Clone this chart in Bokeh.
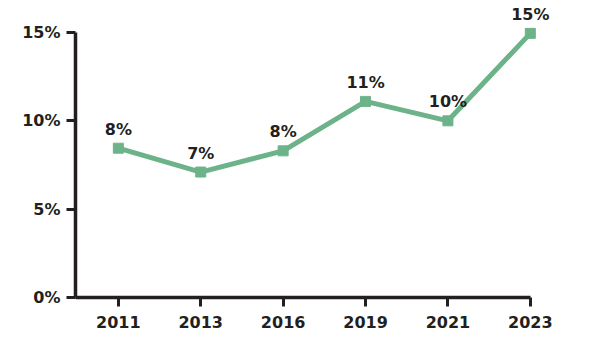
from bokeh.plotting import figure
from bokeh.models import ColumnDataSource, FixedTicker, PrintfTickFormatter, Range1d
from bokeh.core.properties import value
from bokeh.embed import file_html
from bokeh.resources import INLINE

years = ["2011", "2013", "2016", "2019", "2021", "2023"]
values = [8.45, 7.1, 8.3, 11.1, 10.0, 14.95]
labels = [f"{round(v)}%" for v in values]
y_ticks = [0, 5, 10, 15]

xs = list(range(len(years)))
src = ColumnDataSource(dict(x=xs, y=values, label=labels))

FONT = "DejaVu Sans"
DARK = "#231f20"
GREEN = "#6db38a"

p = figure(width=582, height=340, output_backend="svg", toolbar_location=None,
           x_range=Range1d(-0.52, 5.245), y_range=Range1d(0, 16.81),
           min_border_left=75, min_border_right=32, min_border_top=0, min_border_bottom=43)
p.outline_line_color = None
p.xgrid.visible = False
p.ygrid.visible = False
p.background_fill_color = "white"
p.border_fill_color = "white"

p.line("x", "y", source=src, line_color=GREEN, line_width=5)
p.scatter("x", "y", source=src, marker="square", size=10, fill_color=GREEN, line_color=GREEN)
p.text("x", "y", text="label", source=src, y_offset=-19, text_align="center",
       text_baseline="middle", text_font=value(FONT), text_font_style="bold",
       text_font_size="16px", text_color=DARK)

for ax in (p.xaxis[0], p.yaxis[0]):
    ax.axis_line_color = DARK
    ax.axis_line_width = 3.5
    ax.major_tick_line_color = DARK
    ax.major_tick_line_width = 3
    ax.major_tick_in = 0
    ax.major_tick_out = 9
    ax.minor_tick_line_color = None
    ax.major_label_text_font = FONT
    ax.major_label_text_font_style = "bold"
    ax.major_label_text_font_size = "16px"
    ax.major_label_text_color = DARK

p.xaxis[0].ticker = FixedTicker(ticks=xs)
p.xaxis[0].major_label_overrides = {i: y for i, y in zip(xs, years)}
p.xaxis[0].bounds = (-0.52, len(years) - 1)
p.xaxis[0].major_label_standoff = 9

p.yaxis[0].ticker = FixedTicker(ticks=y_ticks)
p.yaxis[0].formatter = PrintfTickFormatter(format="%d%%")
p.yaxis[0].bounds = (0, 15)
p.yaxis[0].major_label_standoff = 6

open("out.html", "w").write(file_html(p, INLINE))
